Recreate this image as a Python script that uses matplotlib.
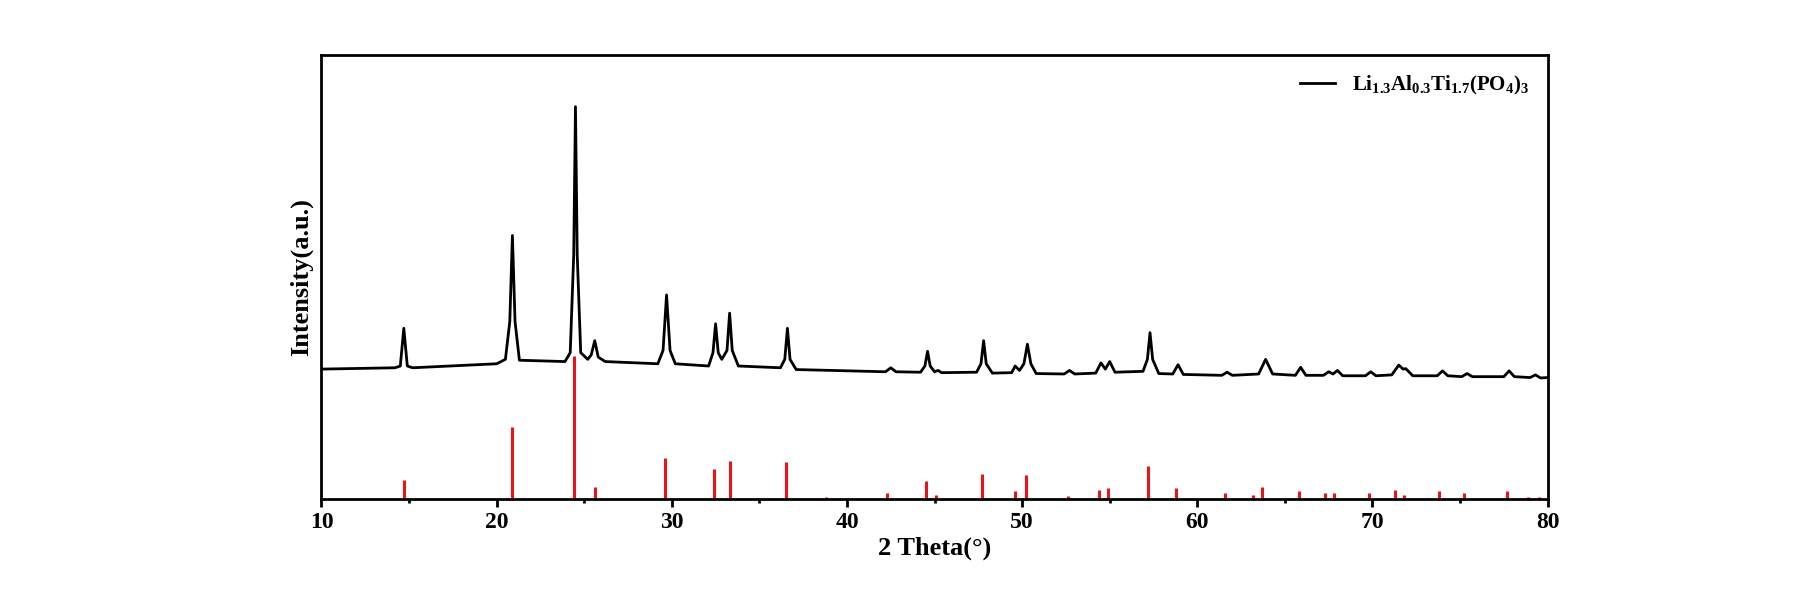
import matplotlib
matplotlib.use("Agg")
import matplotlib.pyplot as plt
from matplotlib.ticker import MultipleLocator

plt.rcParams['font.family'] = ['Liberation Serif', 'DejaVu Serif']
plt.rcParams['font.weight'] = 'bold'
plt.rcParams['mathtext.fontset'] = 'custom'
plt.rcParams['mathtext.rm'] = 'Liberation Serif:bold'
plt.rcParams['mathtext.default'] = 'rm'

pattern_x = [10, 14.2, 14.5, 14.7, 14.9, 15.2, 20.0, 20.5, 20.75, 20.9, 21.05, 21.3,
             23.9, 24.2, 24.4, 24.5, 24.6, 24.8, 25.2, 25.4, 25.6, 25.8, 26.2,
             29.2, 29.5, 29.7, 29.9, 30.2, 32.1, 32.35, 32.5, 32.65, 32.85, 33.15,
             33.3, 33.45, 33.8, 36.2, 36.45, 36.6, 36.75, 37.1, 42.2, 42.5, 42.8,
             44.2, 44.45, 44.6, 44.75, 45.0, 45.2, 45.4, 47.4, 47.65, 47.8, 47.95, 48.3,
             49.4, 49.6, 49.85, 50.1, 50.3, 50.5, 50.8, 52.4, 52.7, 53.0, 54.2, 54.5,
             54.75, 55.0, 55.3, 56.9, 57.15, 57.3, 57.45, 57.8, 58.6, 58.9, 59.2,
             61.4, 61.7, 62.0, 63.5, 63.9, 64.3, 65.6, 65.9, 66.2, 67.2, 67.5, 67.75,
             68.0, 68.3, 69.6, 69.9, 70.2, 71.1, 71.5, 71.75, 71.9, 72.3, 73.7, 74.0,
             74.3, 75.1, 75.4, 75.7, 77.5, 77.8, 78.1, 79.0, 79.3, 79.6, 80]
pattern_y = [29.3, 29.6, 30.0, 38.5, 30.0, 29.6, 30.5, 31.5, 40.0, 59.4, 40.0, 31.3,
             31.0, 33.0, 55.0, 88.4, 55.0, 33.0, 31.5, 32.5, 35.7, 32.0, 31.0,
             30.5, 33.5, 46.0, 33.5, 30.5, 30.0, 33.0, 39.5, 33.0, 31.5, 33.5,
             41.9, 33.5, 30.0, 29.6, 31.5, 38.5, 31.5, 29.2, 28.7, 29.6, 28.7,
             28.6, 30.0, 33.3, 30.0, 28.7, 29.0, 28.5, 28.6, 30.5, 35.7, 30.5, 28.4,
             28.5, 30.0, 29.0, 30.5, 34.9, 30.5, 28.3, 28.2, 29.0, 28.2, 28.4, 30.7,
             29.3, 31.0, 28.6, 28.8, 31.5, 37.5, 31.5, 28.3, 28.2, 30.3, 28.1,
             27.9, 28.6, 27.9, 28.2, 31.5, 28.2, 27.9, 29.7, 27.9, 27.9, 28.7, 28.2,
             29.0, 27.8, 27.8, 28.7, 27.8, 28.0, 30.2, 29.3, 29.4, 27.8, 27.8, 28.9,
             27.8, 27.6, 28.3, 27.6, 27.6, 28.9, 27.6, 27.4, 28.0, 27.3, 27.4]

# reference pattern sticks
ref_pos = [14.7, 20.9, 24.4, 25.6, 29.6, 32.4, 33.3, 36.5, 38.8, 42.3, 44.5, 45.1,
           47.7, 49.6, 50.2, 52.6, 54.4, 54.9, 57.2, 58.8, 61.6, 63.2, 63.7, 65.8,
           67.3, 67.8, 69.8, 71.3, 71.8, 73.8, 75.2, 77.7, 78.9, 79.5]
ref_int = [4.4, 16.3, 32.3, 2.8, 9.3, 6.7, 8.5, 8.3, 0.5, 1.3, 4.1, 1.0,
           5.7, 1.8, 5.4, 0.8, 2.1, 2.6, 7.5, 2.6, 1.3, 1.0, 2.8, 1.8,
           1.3, 1.5, 1.5, 2.1, 1.0, 1.8, 1.3, 1.8, 0.5, 0.5]

label = r'Li$_{1.3}$Al$_{0.3}$Ti$_{1.7}$(PO$_4$)$_3$'

fig = plt.figure(figsize=(18, 6), dpi=100)
ax = fig.add_axes([0.1786, 0.168, 0.6812, 0.74])

ax.plot(pattern_x, pattern_y, color='black', linewidth=2, label=label)
ax.vlines(ref_pos, 0, ref_int, color='#e8141b', linewidth=2.2)

ax.set_xlim(10, 80)
ax.set_ylim(0, 100)
ax.xaxis.set_major_locator(MultipleLocator(10))
ax.xaxis.set_minor_locator(MultipleLocator(5))
ax.tick_params(axis='x', which='major', direction='out', length=6, width=2,
               labelsize=17)
ax.tick_params(axis='x', which='minor', direction='out', length=3, width=2)
ax.set_yticks([])
for s in ax.spines.values():
    s.set_linewidth(2)

ax.set_xlabel('2 Theta(°)', fontsize=19, fontweight='bold', labelpad=2)
ax.set_ylabel('Intensity(a.u.)', fontsize=19, fontweight='bold', labelpad=6)

leg = ax.legend(loc='upper right', frameon=False, fontsize=15,
                handlelength=1.7, borderaxespad=0.5)

fig.savefig('out.png', dpi=100)
